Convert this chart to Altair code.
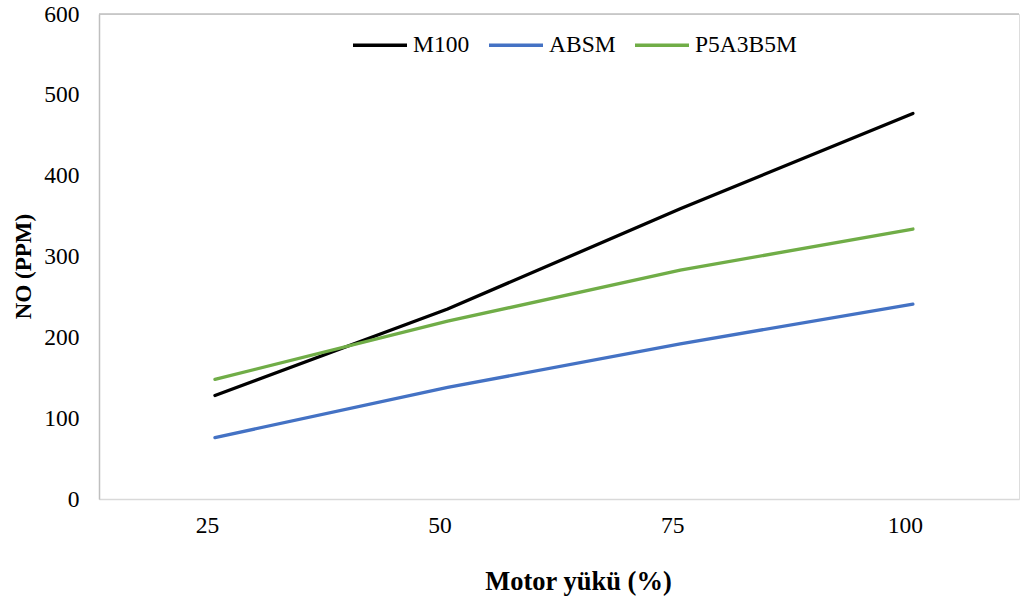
import altair as alt
import pandas as pd

loads = [25, 50, 75, 100]
series_names = ["M100", "ABSM", "P5A3B5M"]
m100 = [128, 235, 359, 477]
absm = [76, 138, 192, 241]
p5a3b5m = [148, 220, 283, 334]
colors = ["#000000", "#4472C4", "#70AD47"]

rows = []
for name, vals in zip(series_names, [m100, absm, p5a3b5m]):
    for l, v in zip(loads, vals):
        rows.append({"load": l, "value": v, "series": name})
df = pd.DataFrame(rows)

W, H = 920, 485
FONT = "'Times New Roman', 'Liberation Serif', serif"
LS = 23.5

xscale = alt.Scale(domain=[12.54, 111.4], nice=False, zero=False)
yscale = alt.Scale(domain=[0, 600], nice=False)

lines = alt.Chart(df).mark_line(strokeWidth=3.3, strokeCap="round").encode(
    x=alt.X("load:Q", scale=xscale,
            axis=alt.Axis(values=loads, title="Motor yükü (%)", grid=False, ticks=False,
                          domainColor="#D9D9D9", domainWidth=1.5,
                          labelFontSize=LS, labelFont=FONT, labelColor="#000000",
                          labelPadding=14, labelOffset=-8,
                          titleFontSize=26.5, titleFont=FONT, titleFontWeight="bold",
                          titleColor="#000000", titleX=479, titleY=82,
                          titleBaseline="middle", titleAnchor="start", titleAlign="center")),
    y=alt.Y("value:Q", scale=yscale,
            axis=alt.Axis(values=[0, 100, 200, 300, 400, 500, 600], title="NO (PPM)",
                          grid=False, ticks=False, domainColor="#BFBFBF", domainWidth=1.5,
                          labelFontSize=LS, labelFont=FONT, labelColor="#000000",
                          labelPadding=20,
                          titleFontSize=23, titleFont=FONT, titleFontWeight="bold",
                          titleColor="#000000", titleX=-76, titleY=252,
                          titleBaseline="middle", titleAlign="center")),
    color=alt.Color("series:N",
                    scale=alt.Scale(domain=series_names, range=colors),
                    legend=alt.Legend(title=None, orient="none", direction="horizontal",
                                      legendX=252, legendY=2,
                                      symbolType="stroke", symbolSize=2916,
                                      symbolStrokeWidth=3.5,
                                      labelFontSize=LS, labelFont=FONT, labelColor="#000000",
                                      labelOffset=4, columnPadding=12)),
)

top_line = alt.Chart(pd.DataFrame({"v": [600]})).mark_rule(
    color="#BFBFBF", strokeWidth=1.5
).encode(y=alt.Y("v:Q", scale=yscale), x=alt.value(0), x2=alt.value(W))

chart = alt.layer(top_line, lines).properties(
    width=W, height=H,
    autosize=alt.AutoSizeParams(type="none"),
    padding={"left": 99, "top": 14, "right": 1, "bottom": 98},
).configure_view(stroke=None).configure(background="#FFFFFF", font=FONT)

chart.save("out.html", embed_options={"renderer": "svg", "actions": False})
